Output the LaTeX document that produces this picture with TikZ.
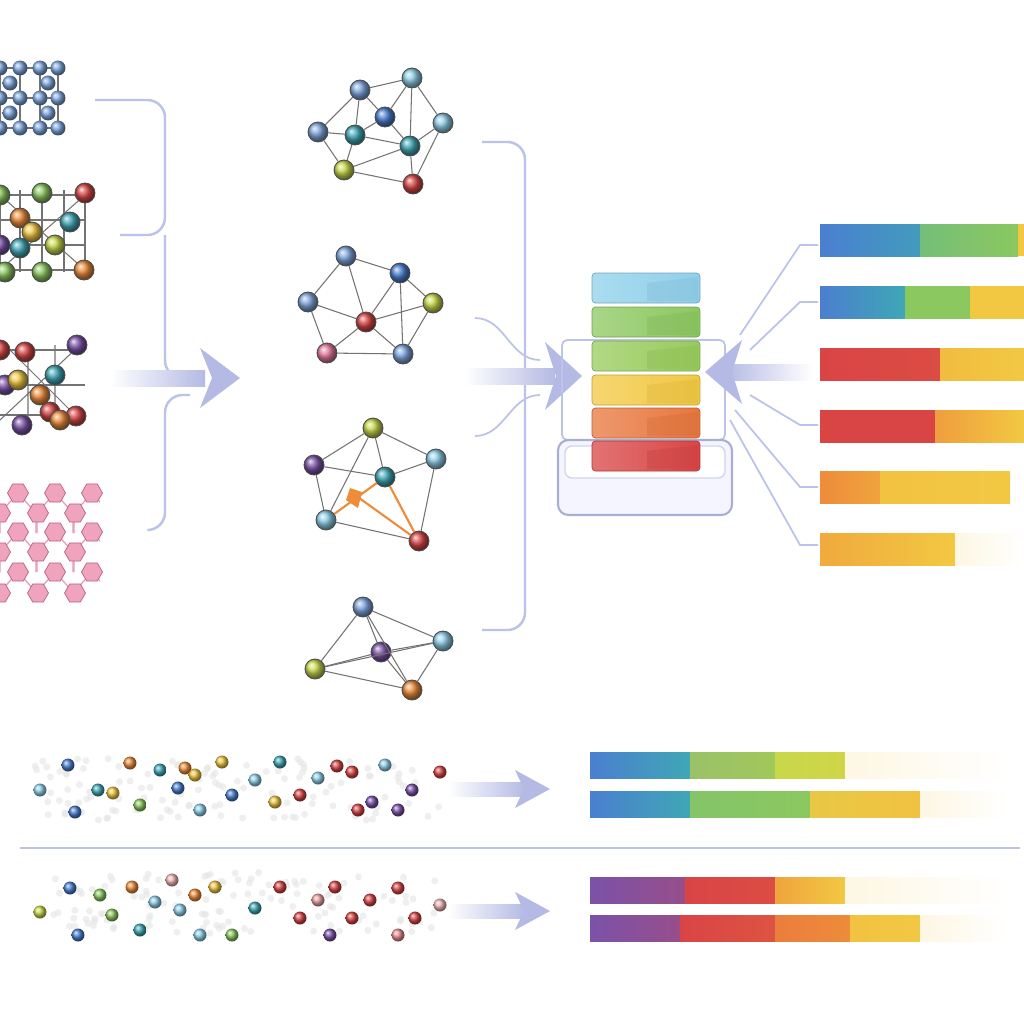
\documentclass[tikz,border=0pt]{standalone}
\usetikzlibrary{shapes.geometric,arrows.meta}
\definecolor{cblue}{HTML}{4A7FD0}\definecolor{cteal}{HTML}{3FA7B5}
\definecolor{cgreen}{HTML}{8CC860}\definecolor{cyellow}{HTML}{F2C842}
\definecolor{corange}{HTML}{EE8C3A}\definecolor{cred}{HTML}{D94545}
\definecolor{cpurple}{HTML}{7B52A8}\definecolor{cpink}{HTML}{E87BA0}
\definecolor{clblue}{HTML}{8FD0EA}\definecolor{cyg}{HTML}{C8D84A}
\definecolor{cbl}{HTML}{7FA8E0}
\definecolor{acol}{HTML}{B4BAE4}\definecolor{lcol}{HTML}{BCC3EA}
\newcommand{\seg}[5]{\shade[left color=#4,right color=#5] (#1,#3) rectangle (#2,#3+32);}
\newcommand{\bseg}[5]{\shade[left color=#4,right color=#5] (#1,#3) rectangle (#2,#3+26);}
\begin{document}
\begin{tikzpicture}[x=0.02cm,y=-0.02cm,
 ball/.style={circle,draw=black!70,line width=0.5pt,shading=ball,ball color=#1,minimum size=0.4cm,inner sep=0pt},
 sball/.style={circle,shading=ball,ball color=#1,minimum size=0.3cm,inner sep=0pt},
 dot/.style={circle,shading=ball,ball color=#1,minimum size=0.26cm,inner sep=0pt},
 hx/.style={regular polygon,regular polygon sides=6,draw=cpink!80!black,fill=cpink!70,minimum size=0.42cm,inner sep=0pt,line width=0.4pt},
 edge/.style={draw=black!55,line width=0.6pt},
 brk/.style={draw=lcol,line width=1.4pt,rounded corners=10pt},
 fan/.style={draw=lcol,line width=1pt}]
\useasboundingbox (0,0) rectangle (1024,1024);
\fill[white] (0,0) rectangle (1024,1024);
% ---------- left crystals
\foreach \y in {68,98,128}{\draw[edge] (0,\y) -- (60,\y);}
\foreach \x in {0,20,40,58}{\draw[edge] (\x,68) -- (\x,135);}
\foreach \x/\y [count=\i] in {0/68,20/68,40/68,58/68,10/83,48/83,0/98,20/98,40/98,58/98,10/113,48/113,0/128,20/128,40/128,58/128}{\node[sball=cbl] (a\i) at (\x,\y) {};}
% crystal 2
\foreach \y in {195,220,245,270}{\draw[edge] (0,\y) -- (85,\y);}
\foreach \x in {0,20,42,64,85}{\draw[edge] (\x,190) -- (\x,272);}
\draw[edge] (0,195) -- (85,270) (0,270) -- (85,195);
\foreach \x/\y/\c [count=\i] in {0/195/cgreen,42/193/cgreen,85/193/cred,20/218/corange,70/222/cteal,0/245/cpurple,20/248/cteal,55/245/cyg,42/272/cgreen,84/270/corange,5/272/cgreen,32/232/cyellow}{\node[ball=\c] (b\i) at (\x,\y) {};}
% crystal 3
\foreach \y in {350,385,415}{\draw[edge] (0,\y) -- (85,\y);}
\draw[edge] (0,340) -- (80,420) (0,420) -- (80,345) (28,345) -- (28,425) (55,345)--(55,425);
\foreach \x/\y/\c [count=\i] in {25/352/cred,77/345/cpurple,0/350/cred,55/375/cteal,5/385/cpurple,40/395/corange,18/380/cyellow,50/412/cred,76/416/cred,22/425/cpurple,60/420/corange}{\node[ball=\c] (c\i) at (\x,\y) {};}
% crystal 4
\begin{scope}
\clip (0,480) rectangle (100,600);
\foreach \x in {18,55,92}{\foreach \y in {493,532,572}{\draw[cpink!80,line width=0.7pt] (\x,\y) -- (\x-18,\y+20) -- (\x-18,\y+40) (\x,\y)--(\x+18,\y+20) -- (\x+18,\y+40);}}
\end{scope}
\foreach \x in {18,55,92}{\foreach \y in {493,532,572}{\node[hx] at (\x,\y) {};}}
\foreach \x in {0,38,75}{\foreach \y in {513,552,593}{\node[hx] at (\x,\y) {};}}
% ---------- bracket 1 and arrow
\draw[brk] (95,100) -- (165,100) -- (165,235) -- (120,235);
\draw[brk] (165,235) -- (165,378) -- (190,378);
\draw[brk] (150,530) -- (165,530) -- (165,395) -- (190,395);
\shade[left color=white,right color=acol] (110,370) rectangle (205,386);
\fill[acol] (200,348) -- (240,378) -- (200,408) -- (212,378) -- cycle;
% ---------- molecules
\node[ball=cbl] (m1) at (360,90) {};\node[ball=clblue] (m2) at (412,78) {};
\node[ball=cbl] (m3) at (318,132) {};\node[ball=cteal] (m4) at (355,135) {};
\node[ball=cblue] (m5) at (385,117) {};\node[ball=clblue] (m6) at (443,123) {};
\node[ball=cteal] (m7) at (410,146) {};\node[ball=cyg] (m8) at (344,170) {};
\node[ball=cred] (m9) at (413,184) {};
\foreach \a/\b in {1/2,1/3,1/4,1/5,2/5,2/6,2/7,3/4,3/8,4/8,4/5,5/7,6/7,6/9,7/9,8/9,4/7,3/1,8/7}{\draw[edge] (m\a) -- (m\b);}
\node[ball=cbl] (n1) at (346,256) {};\node[ball=cblue] (n2) at (400,273) {};
\node[ball=cbl] (n3) at (308,302) {};\node[ball=cred] (n4) at (366,322) {};
\node[ball=cyg] (n5) at (433,303) {};\node[ball=cpink] (n6) at (327,353) {};
\node[ball=cbl] (n7) at (403,354) {};
\foreach \a/\b in {1/2,1/3,1/4,2/4,2/5,3/4,3/6,4/6,4/7,5/7,6/7,2/7,4/5}{\draw[edge] (n\a) -- (n\b);}
\node[ball=cyg] (o1) at (373,428) {};\node[ball=cpurple] (o2) at (314,465) {};
\node[ball=cteal] (o3) at (385,477) {};\node[ball=clblue] (o4) at (436,459) {};
\node[ball=clblue] (o5) at (326,520) {};\node[ball=cred] (o6) at (419,541) {};
\foreach \a/\b in {1/2,1/3,1/4,2/3,2/5,3/4,3/5,3/6,4/6,5/6,1/5}{\draw[edge] (o\a) -- (o\b);}
\draw[corange,line width=1.2pt] (o3) -- (o6) (o5) -- (o3) (355,495) -- (o6);
\fill[corange] (350,488) -- (362,492) -- (358,508) -- (346,500) -- cycle;
\node[ball=cbl] (p1) at (363,607) {};\node[ball=clblue] (p2) at (443,641) {};
\node[ball=cpurple] (p3) at (381,652) {};\node[ball=cyg] (p4) at (315,669) {};
\node[ball=corange] (p5) at (412,690) {};
\foreach \a/\b in {1/2,1/3,1/4,1/5,2/3,2/5,3/4,3/5,4/5,4/2}{\draw[edge] (p\a) -- (p\b);}
% ---------- bracket 2 and arrow
\draw[brk] (482,142) -- (525,142) -- (525,630) -- (482,630);
\draw[fan] (475,318) to[out=0,in=180] (540,360);
\draw[fan] (475,436) to[out=0,in=180] (540,395);
\shade[left color=white,right color=acol] (465,368) rectangle (555,384);
\fill[acol] (545,342) -- (582,376) -- (545,410) -- (556,376) -- cycle;
% ---------- stack
\draw[lcol,line width=1pt,rounded corners=3pt] (562,340) rectangle (725,440);
\draw[lcol!90!black,fill=blue!4,line width=1.2pt,rounded corners=6pt] (558,440) rectangle (732,515);
\draw[lcol!70,fill=white,line width=0.8pt,rounded corners=4pt] (565,446) rectangle (725,478);
\foreach \y/\c [count=\i] in {273/clblue,307/cgreen,341/cgreen!80!cyg,375/cyellow,408/corange!70!cred,441/cred}{
 \shade[left color=\c!75,right color=\c,rounded corners=2pt,draw=\c!80!black] (592,\y) rectangle (700,\y+30);
 \fill[\c!90!black,opacity=0.35] (647,\y+10) -- (698,\y+4) -- (698,\y+28) -- (647,\y+28) -- cycle;}
% ---------- right arrow
\shade[left color=acol,right color=white] (725,364) rectangle (812,380);
\fill[acol] (742,340) -- (705,372) -- (742,404) -- (732,372) -- cycle;
% fan lines
\draw[fan] (740,335) -- (800,245) -- (818,245);
\draw[fan] (750,350) -- (800,302) -- (818,302);
\draw[fan] (750,395) -- (800,425) -- (818,425);
\draw[fan] (735,410) -- (800,487) -- (818,487);
\draw[fan] (730,420) -- (800,545) -- (818,545);
% ---------- right bars
\seg{820}{920}{224}{cblue}{cteal!70!cblue}\seg{920}{1018}{224}{cgreen!70!cteal}{cgreen}\fill[cyellow] (1018,224) rectangle (1024,256);
\seg{820}{905}{286}{cblue}{cteal}\seg{905}{970}{286}{cgreen}{cgreen}\seg{970}{1024}{286}{cyellow}{cyellow}
\seg{820}{940}{348}{cred}{cred!90!corange}\seg{940}{1024}{348}{cyellow!80!corange}{cyellow}
\seg{820}{935}{410}{cred}{cred}\seg{935}{1024}{410}{corange!70!cyellow}{cyellow}
\seg{820}{880}{471}{corange}{corange!60!cyellow}\seg{880}{1010}{471}{cyellow!90!corange}{cyellow}
\seg{820}{955}{533}{corange!50!cyellow}{cyellow}\seg{955}{1024}{533}{cyellow!15}{white}
% ---------- bottom
\draw[lcol,line width=1pt] (20,848) -- (1020,848);
\pgfmathsetseed{7}
\foreach \i in {1,...,120}{\pgfmathsetmacro\xx{35+rnd*410}\pgfmathsetmacro\yy{758+rnd*62}\fill[black!10,opacity=0.6] (\xx,\yy) circle (0.07cm);}
\foreach \i in {1,...,120}{\pgfmathsetmacro\xx{35+rnd*410}\pgfmathsetmacro\yy{872+rnd*62}\fill[black!10,opacity=0.6] (\xx,\yy) circle (0.07cm);}
\foreach \x/\y/\c [count=\i] in {40/790/clblue,68/765/cblue,75/812/cblue,98/790/cteal,113/793/cyellow,130/763/corange,140/805/cgreen,160/770/cteal,178/788/cblue,185/768/corange,195/775/cyellow,200/810/clblue,222/762/cyellow,232/795/cblue,255/780/clblue,275/802/cyellow,280/762/cteal,300/795/cred,318/778/clblue,337/766/cred,352/772/cred,358/810/cred,372/802/cpurple,385/765/clblue,398/810/cpurple,412/790/cpurple,440/772/cred}{\node[dot=\c] (d\i) at (\x,\y) {};}
\foreach \x/\y/\c [count=\i] in {40/912/cyg,70/888/cblue,78/935/cblue,100/895/cgreen,112/915/cgreen,132/887/corange,140/930/cteal,155/902/clblue,172/880/cred!40,180/910/clblue,195/895/corange,200/935/clblue,215/887/cyellow,232/935/cgreen,255/908/cteal,280/887/cred,300/918/cred,318/900/cred!50,330/935/cpurple,335/887/cred,352/918/cred,370/900/cred,398/888/cred,398/935/cred!60,415/918/cred,440/905/cred!40}{\node[dot=\c] (e\i) at (\x,\y) {};}
\shade[left color=white,right color=acol] (448,782) rectangle (525,796);
\fill[acol] (515,770) -- (550,789) -- (515,808) -- (524,789) -- cycle;
\shade[left color=white,right color=acol] (448,904) rectangle (525,918);
\fill[acol] (515,892) -- (550,911) -- (515,930) -- (524,911) -- cycle;
\bseg{590}{690}{752}{cblue}{cteal}\bseg{690}{775}{752}{cgreen!70!cteal!70!cyellow}{cgreen!80!cyellow}\bseg{775}{845}{752}{cyg}{cyg!80!cyellow}\bseg{845}{1010}{752}{cyellow!15}{white}
\bseg{590}{690}{791}{cblue}{cteal}\bseg{690}{810}{791}{cgreen!90!cteal}{cgreen}\bseg{810}{920}{791}{cyellow!90!cgreen}{cyellow!90!corange}\bseg{920}{1010}{791}{cyellow!15}{white}
\bseg{590}{685}{877}{cpurple}{cpurple!70!cred}\bseg{685}{775}{877}{cred}{cred!90!corange}\bseg{775}{845}{877}{corange!60!cyellow}{cyellow}\bseg{845}{1010}{877}{cyellow!15}{white}
\bseg{590}{680}{915}{cpurple}{cpurple!70!cred}\bseg{680}{775}{915}{cred}{cred!80!corange}\bseg{775}{850}{915}{corange!80!cred}{corange}\bseg{850}{920}{915}{cyellow!90!corange}{cyellow}\bseg{920}{1010}{915}{cyellow!15}{white}
\end{tikzpicture}
\end{document}
